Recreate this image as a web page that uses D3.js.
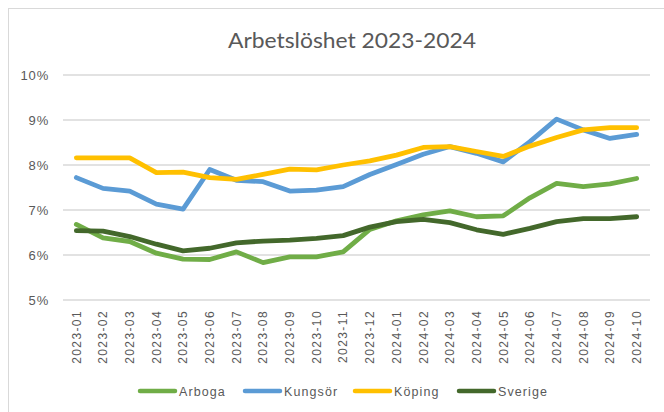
<!DOCTYPE html>
<html>
<head>
<meta charset="utf-8">
<script src="https://cdn.jsdelivr.net/npm/d3@7"></script>
<style>
  html, body { margin: 0; padding: 0; background: #fff; }
  svg { display: block; }
</style>
</head>
<body>
<svg id="chart" width="664" height="412"></svg>
<script>
const months = ["2023-01","2023-02","2023-03","2023-04","2023-05","2023-06","2023-07","2023-08","2023-09","2023-10","2023-11","2023-12",
                "2024-01","2024-02","2024-03","2024-04","2024-05","2024-06","2024-07","2024-08","2024-09","2024-10"];
const arboga  = [6.68,6.38,6.30,6.04,5.91,5.90,6.07,5.83,5.96,5.96,6.07,6.57,6.76,6.89,6.98,6.85,6.87,7.27,7.59,7.52,7.58,7.70];
const kungsor = [7.72,7.48,7.42,7.13,7.02,7.90,7.66,7.63,7.42,7.44,7.52,7.79,8.01,8.24,8.41,8.26,8.07,8.52,9.02,8.78,8.59,8.68];
const koping  = [8.16,8.16,8.16,7.83,7.84,7.72,7.68,7.79,7.91,7.89,8.00,8.09,8.22,8.39,8.41,8.30,8.19,8.42,8.61,8.78,8.83,8.83];
const sverige = [6.54,6.53,6.41,6.24,6.09,6.15,6.27,6.31,6.33,6.37,6.43,6.62,6.74,6.79,6.72,6.56,6.46,6.59,6.74,6.81,6.81,6.85];
const yTicks = [5,6,7,8,9,10];
const seriesNames = ["Arboga","Kungsör","Köping","Sverige"];
const seriesColors = ["#70AD47","#5B9BD5","#FFC000","#43682B"];
const seriesValues = [arboga, kungsor, koping, sverige];

const svg = d3.select("#chart");
const textColor = "#595959";
const gridColor = "#D9D9D9";

// chart border
svg.append("rect").attr("x", 8.5).attr("y", 8.5).attr("width", 800).attr("height", 600)
  .attr("fill", "none").attr("stroke", gridColor).attr("stroke-width", 1);

const x = d3.scaleBand().domain(months).range([63, 650]).padding(0);
const y = d3.scaleLinear().domain([5, 10]).range([300, 75]);

// title
svg.append("text").attr("x", 352).attr("y", 48).attr("text-anchor", "middle")
  .attr("font-family", "Lato, 'Noto Sans', sans-serif").attr("font-size", 22)
  .attr("fill", textColor).attr("textLength", 248).attr("lengthAdjust", "spacingAndGlyphs")
  .text("Arbetslöshet 2023-2024");

// gridlines
svg.append("g").selectAll("line").data(yTicks).join("line")
  .attr("x1", 63).attr("x2", 650)
  .attr("y1", d => y(d)).attr("y2", d => y(d))
  .attr("stroke", gridColor).attr("stroke-width", 1.3);

// y axis labels
const yAxis = d3.axisLeft(y).tickValues(yTicks).tickFormat(d => d + "%").tickSize(0).tickPadding(0);
const gy = svg.append("g").attr("transform", "translate(49,0)").call(yAxis);
gy.select(".domain").remove();
gy.selectAll("text").attr("font-family", "'Liberation Sans', Arial, sans-serif")
  .attr("font-size", 13).attr("fill", textColor).attr("letter-spacing", "0.8px");

// x axis labels
const xAxis = d3.axisBottom(x).tickSize(0).tickPadding(0);
const gx = svg.append("g").attr("transform", "translate(0,310)").call(xAxis);
gx.select(".domain").remove();
gx.selectAll("text")
  .attr("font-family", "'Liberation Sans', Arial, sans-serif").attr("font-size", 12)
  .attr("fill", textColor).attr("letter-spacing", "1.4px")
  .attr("text-anchor", "end").attr("transform", "rotate(-90)")
  .attr("x", 0).attr("y", 0).attr("dy", "0.36em");

// lines
const line = d3.line().x((d, i) => x(months[i]) + x.bandwidth() / 2).y(d => y(d));
svg.append("g").selectAll("path").data(seriesValues).join("path")
  .attr("d", d => line(d)).attr("fill", "none")
  .attr("stroke", (d, i) => seriesColors[i]).attr("stroke-width", 4.8)
  .attr("stroke-linecap", "round").attr("stroke-linejoin", "round");

// legend
const legendX = [138, 243, 353, 457];
const lg = svg.append("g").selectAll("g").data(seriesNames).join("g")
  .attr("transform", (d, i) => `translate(${legendX[i]},391)`);
lg.append("line").attr("x1", 2).attr("x2", 37).attr("y1", 0).attr("y2", 0)
  .attr("stroke", (d, i) => seriesColors[i]).attr("stroke-width", 4.5).attr("stroke-linecap", "round");
lg.append("text").attr("x", 41).attr("y", 0).attr("dy", "0.36em")
  .attr("font-family", "'Liberation Sans', Arial, sans-serif").attr("font-size", 12.5)
  .attr("fill", textColor).attr("letter-spacing", "1.1px")
  .text(d => d);
</script>
</body>
</html>
